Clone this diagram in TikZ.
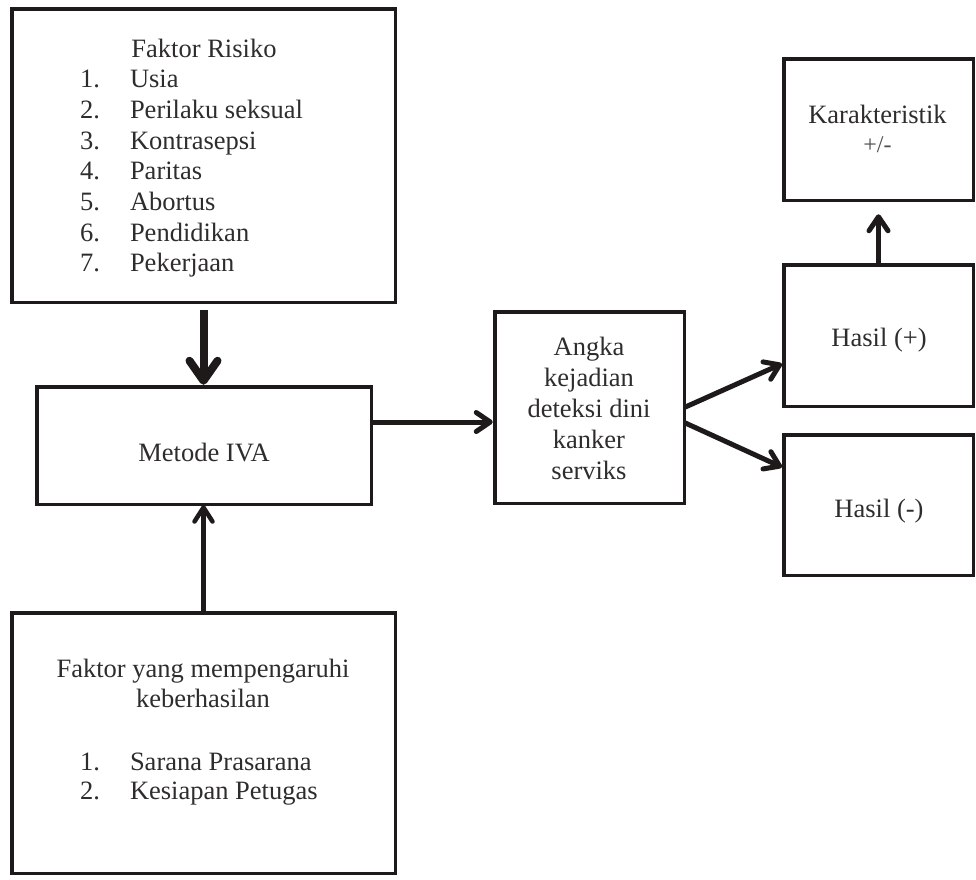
\documentclass[tikz,border=0pt]{standalone}
\usepackage{fontspec}
\setmainfont{Liberation Serif}
\usetikzlibrary{arrows.meta}
\definecolor{linec}{HTML}{1E1A1A}
\definecolor{textc}{HTML}{2E2C2C}
\begin{document}
\begin{tikzpicture}[x=1pt,y=-1pt,
  box/.style={draw=linec, line width=3.5pt, inner sep=0pt, outer sep=0pt, rectangle},
  txt/.style={inner sep=0pt, outer sep=0pt, text=textc, font=\fontsize{26.5}{31}\selectfont, anchor=base},
  num/.style={txt, anchor=base east},
  itm/.style={txt, anchor=base west},
  smalltxt/.style={txt, font=\fontsize{24}{28}\selectfont, text=textc!85},
  conn/.style={draw=linec},
  bigarrow/.style={conn, line width=8pt, -{Straight Barb[round, length=20pt, width=28pt]}},
  midarrow/.style={conn, line width=5pt, -{Straight Barb[round, length=14pt, width=19pt]}},
  smallarrow/.style={conn, line width=4.5pt, -{Straight Barb[round, length=14pt, width=18pt]}}
]
\useasboundingbox (0,0) rectangle (976,879);

% boxes
\node[box, minimum width=383.5pt, minimum height=293.5pt] (risk) at (203.5,155.5) {};
\node[box, minimum width=334.5pt, minimum height=117.5pt] (iva) at (204,445.5) {};
\node[box, minimum width=189.5pt, minimum height=191.5pt] (angka) at (589.5,407.5) {};
\node[box, minimum width=189.5pt, minimum height=141.5pt] (kar) at (878.5,129.5) {};
\node[box, minimum width=189.5pt, minimum height=141.5pt] (hp) at (878.5,335.5) {};
\node[box, minimum width=189.5pt, minimum height=140.5pt] (hm) at (878.5,505) {};
\node[box, minimum width=383.5pt, minimum height=260.5pt] (faktor) at (203.5,743) {};

% texts: Faktor Risiko
\node[txt] (rh) at (204,57) {Faktor Risiko};
\node[num] (rn1) at (100,87.7) {1.};
\node[itm] (ri1) at (130,87.7) {Usia};
\node[num] (rn2) at (100,118.4) {2.};
\node[itm] (ri2) at (130,118.4) {Perilaku seksual};
\node[num] (rn3) at (100,149.1) {3.};
\node[itm] (ri3) at (130,149.1) {Kontrasepsi};
\node[num] (rn4) at (100,179.8) {4.};
\node[itm] (ri4) at (130,179.8) {Paritas};
\node[num] (rn5) at (100,210.5) {5.};
\node[itm] (ri5) at (130,210.5) {Abortus};
\node[num] (rn6) at (100,241.2) {6.};
\node[itm] (ri6) at (130,241.2) {Pendidikan};
\node[num] (rn7) at (100,271.9) {7.};
\node[itm] (ri7) at (130,271.9) {Pekerjaan};

% Metode IVA
\node[txt] (ivat) at (204,461) {Metode IVA};

% Angka
\node[txt] (a1) at (589,355) {Angka};
\node[txt] (a2) at (589,386) {kejadian};
\node[txt] (a3) at (589,417) {deteksi dini};
\node[txt] (a4) at (589,448) {kanker};
\node[txt] (a5) at (589,479) {serviks};

% right column
\node[txt] (kt) at (877.5,123) {Karakteristik};
\node[smalltxt] (kpm) at (877.5,152) {+/-};
\node[txt] (hpt) at (879,346) {Hasil (+)};
\node[txt] (hmt) at (879,517) {Hasil (-)};

% bottom box
\node[txt] (f1) at (203,677) {Faktor yang mempengaruhi};
\node[txt] (f2) at (203,707) {keberhasilan};
\node[num] (fn1) at (100,770) {1.};
\node[itm] (fi1) at (130,770) {Sarana Prasarana};
\node[num] (fn2) at (100,799) {2.};
\node[itm] (fi2) at (130,799) {Kesiapan Petugas};

% connector points
\path (iva.east) ++(0,-23.5) coordinate (ivaout);
\path (angka.east) ++(0,15) coordinate (angkaout);
\path (hp.west) ++(0,27.5) coordinate (hpin);
\path (hm.west) ++(0,-37) coordinate (hmin);

% connectors
\draw[bigarrow, shorten <=8pt, shorten >=2pt] (risk.south) -- (risk.south |- iva.north);
\draw[midarrow, shorten >=2pt] (ivaout) -- (ivaout -| angka.west);
\draw[midarrow, shorten >=2pt] (angka.east) -- (hpin);
\draw[midarrow, shorten >=2pt] (angkaout) -- (hmin);
\draw[midarrow, shorten >=14pt] (hp.north) -- (hp.north |- kar.south);
\draw[smallarrow, shorten >=1pt] (faktor.north) -- (faktor.north |- iva.south);
\end{tikzpicture}
\end{document}
